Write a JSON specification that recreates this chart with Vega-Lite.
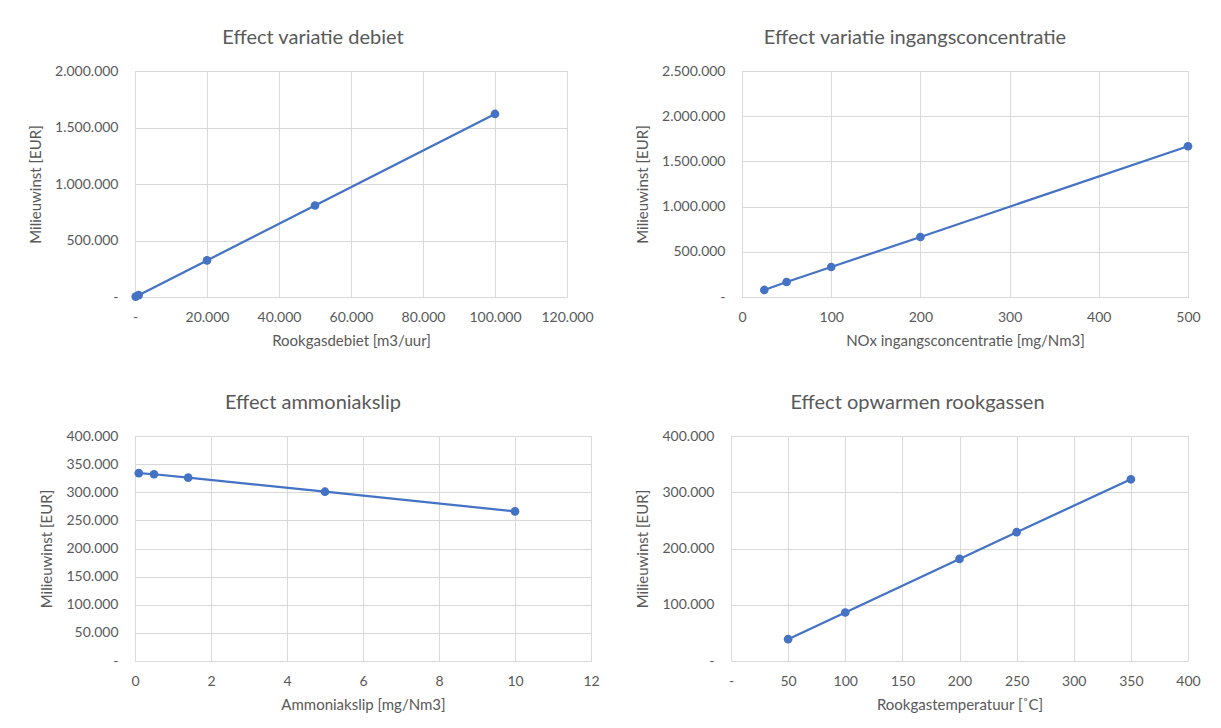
{
  "$schema": "https://vega.github.io/schema/vega-lite/v6.json",
  "background": "white",
  "padding": {"left": 28, "top": 27, "right": 5, "bottom": 5},
  "columns": 2,
  "align": "none",
  "spacing": {"row": 43, "column": 35},
  "config": {
    "font": "Lato",
    "view": {"stroke": "#D9D9D9", "strokeWidth": 1},
    "title": {"fontSize": 20, "fontWeight": "normal", "color": "#595959", "font": "Lato", "offset": 16},
    "axis": {
      "labelColor": "#595959", "titleColor": "#595959", "labelFont": "Lato", "titleFont": "Lato",
      "labelFontSize": 14, "titleFontSize": 15, "titleFontWeight": "normal",
      "gridColor": "#D9D9D9", "gridWidth": 1, "ticks": false,
      "labelFlush": false, "labelOverlap": false
    },
    "axisX": {"domain": true, "domainColor": "#D9D9D9", "labelPadding": 13, "titlePadding": 9},
    "axisY": {"domain": false, "labelPadding": 17, "titlePadding": 11}
  },
  "concat": [
    {
      "width": 432, "height": 226,
      "title": {"text": "Effect variatie debiet", "dx": -38},
      "data": {"values": [
        {"x": 200, "y": 3240},
        {"x": 1000, "y": 16200},
        {"x": 20000, "y": 324000},
        {"x": 50000, "y": 810000},
        {"x": 100000, "y": 1620000}
      ]},
      "encoding": {
        "x": {"field": "x", "type": "quantitative", "scale": {"domain": [0, 120000], "nice": false},
          "axis": {"title": "Rookgasdebiet [m3/uur]", "values": [0, 20000, 40000, 60000, 80000, 100000, 120000],
            "labelExpr": "datum.value == 0 ? '-' : replace(format(datum.value, ','), regexp(',', 'g'), '.')"}},
        "y": {"field": "y", "type": "quantitative", "scale": {"domain": [0, 2000000], "nice": false},
          "axis": {"title": "Milieuwinst [EUR]", "values": [0, 500000, 1000000, 1500000, 2000000],
            "labelExpr": "datum.value == 0 ? '-' : replace(format(datum.value, ','), regexp(',', 'g'), '.')"}}
      },
      "layer": [
        {"mark": {"type": "line", "color": "#4472C4", "strokeWidth": 2.25}},
        {"mark": {"type": "point", "filled": true, "size": 75, "color": "#4472C4", "opacity": 1}}
      ]
    },
    {
      "width": 446, "height": 226,
      "title": {"text": "Effect variatie ingangsconcentratie", "dx": -50},
      "data": {"values": [
        {"x": 25, "y": 78000},
        {"x": 50, "y": 166000},
        {"x": 100, "y": 332000},
        {"x": 200, "y": 664000},
        {"x": 500, "y": 1668000}
      ]},
      "encoding": {
        "x": {"field": "x", "type": "quantitative", "scale": {"domain": [0, 500], "nice": false},
          "axis": {"title": "NOx ingangsconcentratie [mg/Nm3]", "values": [0, 100, 200, 300, 400, 500]}},
        "y": {"field": "y", "type": "quantitative", "scale": {"domain": [0, 2500000], "nice": false},
          "axis": {"title": "Milieuwinst [EUR]", "values": [0, 500000, 1000000, 1500000, 2000000, 2500000],
            "labelExpr": "datum.value == 0 ? '-' : replace(format(datum.value, ','), regexp(',', 'g'), '.')"}}
      },
      "layer": [
        {"mark": {"type": "line", "color": "#4472C4", "strokeWidth": 2.25}},
        {"mark": {"type": "point", "filled": true, "size": 75, "color": "#4472C4", "opacity": 1}}
      ]
    },
    {
      "width": 456, "height": 225,
      "title": {"text": "Effect ammoniakslip", "dx": -50},
      "data": {"values": [
        {"x": 0.1, "y": 334000},
        {"x": 0.5, "y": 332000},
        {"x": 1.4, "y": 326000},
        {"x": 5, "y": 301000},
        {"x": 10, "y": 266000}
      ]},
      "encoding": {
        "x": {"field": "x", "type": "quantitative", "scale": {"domain": [0, 12], "nice": false},
          "axis": {"title": "Ammoniakslip [mg/Nm3]", "values": [0, 2, 4, 6, 8, 10, 12]}},
        "y": {"field": "y", "type": "quantitative", "scale": {"domain": [0, 400000], "nice": false},
          "axis": {"title": "Milieuwinst [EUR]", "values": [0, 50000, 100000, 150000, 200000, 250000, 300000, 350000, 400000],
            "labelExpr": "datum.value == 0 ? '-' : replace(format(datum.value, ','), regexp(',', 'g'), '.')"}}
      },
      "layer": [
        {"mark": {"type": "line", "color": "#4472C4", "strokeWidth": 2.25}},
        {"mark": {"type": "point", "filled": true, "size": 75, "color": "#4472C4", "opacity": 1}}
      ]
    },
    {
      "width": 457, "height": 225,
      "title": {"text": "Effect opwarmen rookgassen", "dx": -42},
      "data": {"values": [
        {"x": 50, "y": 38800},
        {"x": 100, "y": 86300},
        {"x": 200, "y": 181500},
        {"x": 250, "y": 229000},
        {"x": 350, "y": 323000}
      ]},
      "encoding": {
        "x": {"field": "x", "type": "quantitative", "scale": {"domain": [0, 400], "nice": false},
          "axis": {"title": "Rookgastemperatuur [˚C]", "values": [0, 50, 100, 150, 200, 250, 300, 350, 400],
            "labelExpr": "datum.value == 0 ? '-' : datum.label"}},
        "y": {"field": "y", "type": "quantitative", "scale": {"domain": [0, 400000], "nice": false},
          "axis": {"title": "Milieuwinst [EUR]", "values": [0, 100000, 200000, 300000, 400000],
            "labelExpr": "datum.value == 0 ? '-' : replace(format(datum.value, ','), regexp(',', 'g'), '.')"}}
      },
      "layer": [
        {"mark": {"type": "line", "color": "#4472C4", "strokeWidth": 2.25}},
        {"mark": {"type": "point", "filled": true, "size": 75, "color": "#4472C4", "opacity": 1}}
      ]
    }
  ]
}
